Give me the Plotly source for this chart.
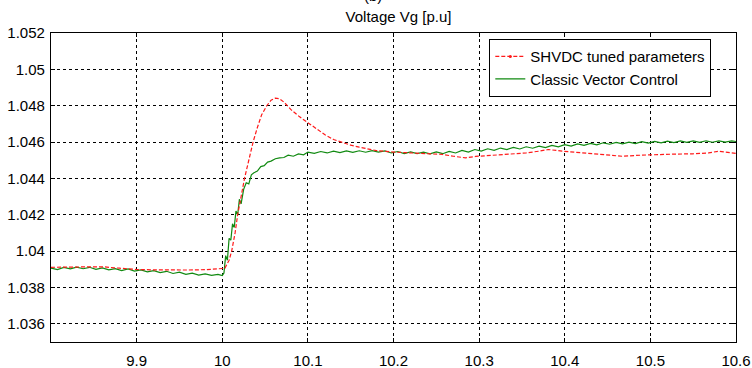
import plotly.graph_objects as go

# SHVDC tuned parameters (red dashed)
t_red = [9.800, 9.820, 9.840, 9.860, 9.880, 9.900, 9.920, 9.940, 9.960, 9.980, 9.998,
         10.003, 10.008, 10.011, 10.015, 10.018, 10.022, 10.026, 10.031, 10.036, 10.041,
         10.046, 10.052, 10.057, 10.062, 10.067, 10.072, 10.080, 10.090, 10.100, 10.110,
         10.120, 10.130, 10.140, 10.150, 10.160, 10.170, 10.180, 10.200, 10.220, 10.240,
         10.257, 10.270, 10.284, 10.296, 10.315, 10.335, 10.355, 10.370, 10.381, 10.397,
         10.415, 10.432, 10.450, 10.467, 10.490, 10.510, 10.530, 10.549, 10.568, 10.580,
         10.590, 10.600]
v_red = [1.03911, 1.03913, 1.03915, 1.03914, 1.03906, 1.03899, 1.03897, 1.03895, 1.03896, 1.03898, 1.03901,
         1.03905, 1.03950, 1.04000, 1.04100, 1.04200, 1.04300, 1.04400, 1.04500, 1.04600, 1.04680,
         1.04750, 1.04800, 1.04830, 1.04842, 1.04838, 1.04820, 1.04780, 1.04740, 1.04705, 1.04670,
         1.04640, 1.04614, 1.04597, 1.04583, 1.04572, 1.04562, 1.04553, 1.04545, 1.04541, 1.04537,
         1.04532, 1.04522, 1.04513, 1.04521, 1.04528, 1.04532, 1.04540, 1.04550, 1.04559, 1.04550,
         1.04542, 1.04535, 1.04528, 1.04522, 1.04528, 1.04532, 1.04534, 1.04535, 1.04540, 1.04550,
         1.04545, 1.04537]

# Classic Vector Control (green solid)
t_green = [9.8000, 9.8075, 9.8150, 9.8225, 9.8300, 9.8375, 9.8450, 9.8525, 9.8600, 9.8675,
           9.8750, 9.8825, 9.8900, 9.8975, 9.9050, 9.9125, 9.9200, 9.9275, 9.9350, 9.9425,
           9.9500, 9.9575, 9.9650, 9.9725, 9.9800, 9.9875, 9.9950, 10.000,
           10.002, 10.004, 10.006, 10.008, 10.010, 10.012, 10.014, 10.016, 10.018, 10.020,
           10.022, 10.025, 10.028, 10.031, 10.034, 10.037, 10.041, 10.045, 10.049, 10.053,
           10.057, 10.062, 10.067, 10.072, 10.077, 10.083, 10.089, 10.095, 10.100,
           10.1075, 10.1150, 10.1225, 10.1300, 10.1375, 10.1450, 10.1525, 10.1600, 10.1675, 10.1750,
           10.1825, 10.1900, 10.1975, 10.2050, 10.2125, 10.2200, 10.2275, 10.2350, 10.2425, 10.2500,
           10.2575, 10.2650, 10.2725, 10.2800, 10.2875, 10.2950, 10.3025, 10.3100, 10.3175, 10.3250,
           10.3325, 10.3400, 10.3475, 10.3550, 10.3625, 10.3700, 10.3775, 10.3850, 10.3925, 10.4000,
           10.4075, 10.4150, 10.4225, 10.4300, 10.4375, 10.4450, 10.4525, 10.4600, 10.4675, 10.4750,
           10.4825, 10.4900, 10.4975, 10.5050, 10.5125, 10.5200, 10.5275, 10.5350, 10.5425, 10.5500,
           10.5575, 10.5650, 10.5725, 10.5800, 10.5875, 10.5950, 10.6000]
v_green = [1.03907, 1.03898, 1.03910, 1.03902, 1.03912, 1.03903, 1.03911, 1.03900, 1.03908, 1.03897,
           1.03904, 1.03893, 1.03902, 1.03890, 1.03897, 1.03886, 1.03893, 1.03882, 1.03889, 1.03877,
           1.03884, 1.03872, 1.03879, 1.03868, 1.03875, 1.03867, 1.03872, 1.03865,
           1.03880, 1.03975, 1.03950, 1.04070, 1.04060, 1.04150, 1.04130, 1.04220, 1.04200, 1.04285,
           1.04260, 1.04340, 1.04376, 1.04370, 1.04420, 1.04431, 1.04440, 1.04465, 1.04470, 1.04490,
           1.04495, 1.04508, 1.04513, 1.04515, 1.04528, 1.04522, 1.04535, 1.04530, 1.04545,
           1.04538, 1.04548, 1.04540, 1.04550, 1.04542, 1.04551, 1.04543, 1.04552, 1.04544, 1.04553,
           1.04545, 1.04551, 1.04540, 1.04548, 1.04537, 1.04546, 1.04536, 1.04545, 1.04535, 1.04546,
           1.04536, 1.04549, 1.04540, 1.04554, 1.04545, 1.04559, 1.04550, 1.04563, 1.04554, 1.04567,
           1.04559, 1.04571, 1.04562, 1.04574, 1.04566, 1.04578, 1.04570, 1.04582, 1.04574, 1.04586,
           1.04578, 1.04590, 1.04582, 1.04593, 1.04585, 1.04596, 1.04588, 1.04598, 1.04590, 1.04600,
           1.04592, 1.04602, 1.04594, 1.04604, 1.04596, 1.04605, 1.04597, 1.04606, 1.04598, 1.04606,
           1.04598, 1.04607, 1.04599, 1.04607, 1.04600, 1.04606, 1.04603]

x_ticks = [9.9, 10.0, 10.1, 10.2, 10.3, 10.4, 10.5, 10.6]
x_labels = ["9.9", "10", "10.1", "10.2", "10.3", "10.4", "10.5", "10.6"]
y_ticks = [1.036, 1.038, 1.040, 1.042, 1.044, 1.046, 1.048, 1.050, 1.052]
y_labels = ["1.036", "1.038", "1.04", "1.042", "1.044", "1.046", "1.048", "1.05", "1.052"]

RED = "#ff1a1a"
GREEN = "#118a11"
FONT = "Liberation Sans, Arial, sans-serif"

fig = go.Figure()
fig.add_trace(go.Scatter(x=t_green, y=v_green, mode="lines", name="Classic Vector Control",
                         line=dict(color=GREEN, width=1.2), legendrank=2))
fig.add_trace(go.Scatter(x=t_red, y=v_red, mode="lines", showlegend=False,
                         line=dict(color=RED, width=1.2, dash="4px,2px")))
fig.add_trace(go.Scatter(x=[None], y=[None], mode="lines+markers", name="SHVDC tuned parameters",
                         line=dict(color=RED, width=1.2, dash="4px,2px"),
                         marker=dict(color=RED, size=3), legendrank=1))

axis_common = dict(showline=True, linecolor="black", linewidth=1.3, mirror="allticks",
                   ticks="inside", ticklen=4, tickcolor="black", automargin=False,
                   showgrid=True, gridcolor="black", gridwidth=1, griddash="dot",
                   zeroline=False, tickfont=dict(family=FONT, size=15, color="black"))

fig.update_xaxes(range=[9.8, 10.6], tickvals=x_ticks, ticktext=x_labels,
                 ticklabelstandoff=5, **axis_common)
fig.update_yaxes(range=[1.035, 1.052], tickvals=y_ticks, ticktext=y_labels,
                 ticklabelstandoff=2, **axis_common)

fig.update_layout(
    width=752, height=368,
    margin=dict(l=51, r=16, t=33, b=26),
    paper_bgcolor="white", plot_bgcolor="white",
    font=dict(family=FONT, size=15, color="black"),
    title=dict(text="Voltage Vg [p.u]", x=0.53, xanchor="center", y=1 - 17 / 368, yanchor="middle",
               font=dict(family=FONT, size=15, color="black")),
    showlegend=True,
    legend=dict(x=0.9635, y=0.981, xanchor="right", yanchor="top", bgcolor="white",
                bordercolor="black", borderwidth=1.3, font=dict(family=FONT, size=15, color="black"),
                tracegroupgap=0, itemwidth=30),
    annotations=[dict(text="(b)", xref="paper", yref="paper", x=0.47, y=1, xanchor="center",
                      yanchor="bottom", yshift=27, showarrow=False,
                      font=dict(family=FONT, size=15, color="black"))],
)

fig.write_html("out.html")
